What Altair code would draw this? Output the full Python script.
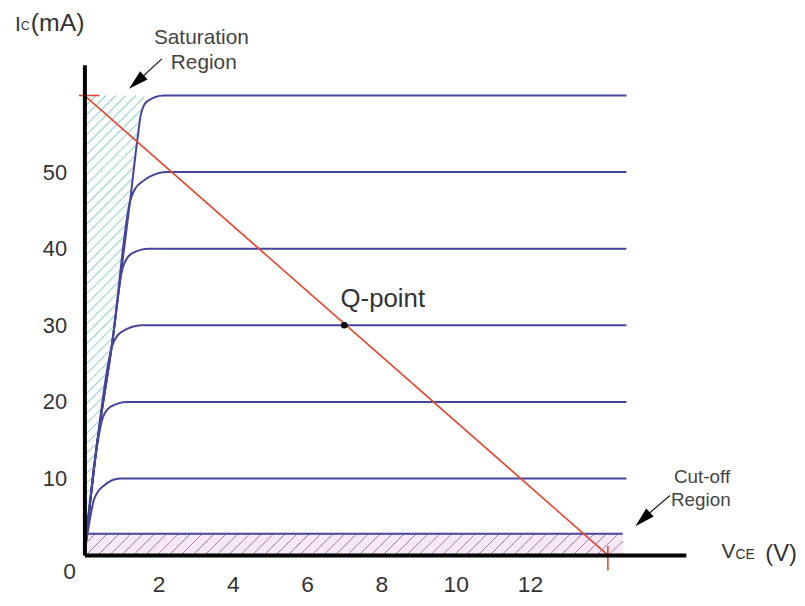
import altair as alt
import pandas as pd

# ---------------- data ----------------
LEVELS = [10, 20, 30, 40, 50, 60]
C10_V = [0.0, 0.27, 0.53, 0.96, 14.6]
C10_I = [0.0, 7.4, 9.1, 10.0, 10.0]
C20_V = [0.0, 0.29, 0.50, 0.72, 1.15, 14.6]
C20_I = [0.0, 12.6, 18.0, 19.4, 20.0, 20.0]
C30_V = [0.0, 0.29, 0.74, 0.99, 1.55, 14.6]
C30_I = [0.0, 12.6, 27.2, 29.1, 30.0, 30.0]
C40_V = [0.0, 0.29, 0.76, 1.03, 1.28, 1.74, 14.6]
C40_I = [0.0, 12.6, 28.1, 37.5, 39.4, 40.0, 40.0]
C50_V = [0.0, 0.29, 0.76, 1.23, 1.33, 1.60, 2.22, 14.6]
C50_I = [0.0, 12.6, 28.1, 46.2, 47.5, 48.9, 50.0, 50.0]
C60_V = [0.0, 0.29, 0.76, 1.23, 1.42, 1.52, 1.68, 2.14, 14.6]
C60_I = [0.0, 12.6, 28.1, 46.2, 54.0, 57.5, 59.2, 60.0, 60.0]
CURVES_V = [C10_V, C20_V, C30_V, C40_V, C50_V, C60_V]
CURVES_I = [C10_I, C20_I, C30_I, C40_I, C50_I, C60_I]

CUTOFF_I = 2.8            # top of cut-off band (mA)
CUTOFF_V = [0.08, 14.5]   # extent of cut-off band (V)
SAT_TOP = 60.0            # top of saturation region (mA)
SAT_K = 0.027             # V per mA along the saturation edge
LOAD_V = [0.0, 14.1]
LOAD_I = [60.0, 0.0]
Q_V = [7.0]
Q_I = [30.0]
X_TICKS = [2, 4, 6, 8, 10, 12]
Y_TICKS = [10, 20, 30, 40, 50]
X_MAX = 16.2
Y_MAX = 64.0

# ---------------- styling ----------------
FONT = "Liberation Sans"
BLUE = "#45459c"
RED = "#e8452c"
W, H = 606, 494
SLOPE = (W / X_MAX) / (H / Y_MAX)   # mA per V for a 45-degree hatch line

rows = []
for lev, vs, is_ in zip(LEVELS, CURVES_V, CURVES_I):
    for v, i in zip(vs, is_):
        rows.append({"level": lev, "v": v, "i": i})
curves_df = pd.DataFrame(rows)
ONE = pd.DataFrame({"k": [0]})

xscale = alt.Scale(domain=[0, X_MAX], nice=False, zero=False)
yscale = alt.Scale(domain=[0, Y_MAX], nice=False, zero=False)
xaxis = alt.Axis(values=X_TICKS, title=None, grid=False, ticks=False,
                 domainColor="black", domainWidth=4, labelFontSize=23,
                 labelColor="#333333", labelPadding=19, labelFont=FONT, zindex=1)
yaxis = alt.Axis(values=Y_TICKS, title=None, grid=False, ticks=False,
                 domainColor="black", domainWidth=4, labelFontSize=22,
                 labelColor="#333333", labelPadding=18, labelFont=FONT, zindex=1)


def X(f):
    return alt.X(f, type="quantitative", scale=xscale, axis=xaxis)


def Y(f):
    return alt.Y(f, type="quantitative", scale=yscale, axis=yaxis)


# cut-off band fill
cut_fill = alt.Chart(pd.DataFrame({"v0": [CUTOFF_V[0]], "v1": [CUTOFF_V[1]],
                                   "i0": [0.0], "i1": [CUTOFF_I]})).mark_rect(
    color="#f7e9f7").encode(x=X("v0"), x2="v1", y=Y("i0"), y2="i1")

# cut-off hatch
cut_hatch = alt.Chart(alt.sequence(-0.6, CUTOFF_V[1], 0.32, as_="h")).transform_calculate(
    vs=f"max(datum.h, {CUTOFF_V[0]})",
    ve=f"min(datum.h + {CUTOFF_I}/{SLOPE}, {CUTOFF_V[1]})",
).transform_calculate(
    is0=f"{SLOPE}*(datum.vs - datum.h)",
    ie=f"{SLOPE}*(datum.ve - datum.h)",
).transform_filter("datum.ve > datum.vs").mark_rule(
    color="#a878ac", strokeWidth=1).encode(x=X("vs:Q"), x2="ve:Q", y=Y("is0:Q"), y2="ie:Q")

# saturation hatch
den = 1 - SLOPE * SAT_K
sat_hatch = alt.Chart(alt.sequence(0, SAT_TOP, 1.3, as_="c")).transform_calculate(
    vs="0",
    ie=f"min(datum.c / {den}, {SAT_TOP})",
).transform_calculate(
    ve=f"datum.c / {den} > {SAT_TOP} ? ({SAT_TOP} - datum.c)/{SLOPE} : {SAT_K} * datum.c / {den}",
).mark_rule(color="#9fd6d6", strokeWidth=1.2).encode(
    x=X("vs:Q"), x2="ve:Q", y=Y("c:Q"), y2="ie:Q")

# cut-off (IB = 0) line
cut_line = alt.Chart(pd.DataFrame({"v0": [CUTOFF_V[0]], "v1": [CUTOFF_V[1]],
                                   "i": [CUTOFF_I]})).mark_rule(
    color=BLUE, strokeWidth=2).encode(x=X("v0"), x2="v1", y=Y("i"))

# characteristic curves
curves = alt.Chart(curves_df).mark_line(color=BLUE, strokeWidth=2, interpolate="monotone").encode(
    x=X("v"), y=Y("i"), detail="level:N", order="v:Q")

# load line
load = alt.Chart(pd.DataFrame({"v0": [LOAD_V[0]], "v1": [LOAD_V[1]],
                               "i0": [LOAD_I[0]], "i1": [LOAD_I[1]]})).mark_rule(
    color=RED, strokeWidth=1.6).encode(x=X("v0"), x2="v1", y=Y("i0"), y2="i1")
load_top = alt.Chart(pd.DataFrame({"v0": [LOAD_V[0] - 0.15], "v1": [LOAD_V[0] + 0.4],
                                   "i": [LOAD_I[0]]})).mark_rule(
    color=RED, strokeWidth=1.6).encode(x=X("v0"), x2="v1", y=Y("i"))
load_bot = alt.Chart(pd.DataFrame({"v": [LOAD_V[1]], "i0": [1.2], "i1": [-2.0]})).mark_rule(
    color=RED, strokeWidth=1.6).encode(x=X("v"), y=Y("i0"), y2="i1")

# Q point
qpt = alt.Chart(pd.DataFrame({"v": Q_V, "i": Q_I})).mark_point(
    filled=True, color="black", size=45, opacity=1).encode(x=X("v"), y=Y("i"))


def txt(s, x, y, size, color="#333333", align="left", baseline="alphabetic"):
    return alt.Chart(ONE).mark_text(text=s, fontSize=size, color=color, align=align,
                                    baseline=baseline, font=FONT).encode(
        x=alt.value(x), y=alt.value(y))


def seg(x1, y1, x2, y2):
    return alt.Chart(ONE).mark_rule(color="#222222", strokeWidth=1.3).encode(
        x=alt.value(x1), y=alt.value(y1), x2=alt.value(x2), y2=alt.value(y2))


def head(x, y, ang):
    return alt.Chart(ONE).mark_point(shape="M0,-1L0.55,1L-0.55,1Z", size=400, angle=ang,
                                     filled=True, color="black", opacity=1).encode(
        x=alt.value(x), y=alt.value(y))


texts = [
    txt("I", -70, -34, 21),
    txt("C", -64, -35, 12),
    txt("(mA)", -54, -34, 25),
    txt("Saturation", 70, -21, 21, color="#444444"),
    txt("Region", 87, 4, 21, color="#444444"),
    txt("Q-point", 258, 244, 26),
    txt("Cut-off", 594, 421, 19, color="#444444"),
    txt("Region", 591, 445, 19, color="#444444"),
    txt("V", 642, 497, 21),
    txt("CE", 656, 498, 14),
    txt("(V)", 686, 500, 24),
    txt("0", -15, 511, 23, align="center", baseline="middle"),
]

arrows = [
    seg(78, -6, 52, 18), head(52.4, 17.3, 228),
    seg(590, 434, 563, 457), head(562.5, 458, 227),
]

chart = alt.layer(
    cut_fill, cut_hatch, sat_hatch, cut_line, curves, load, load_top, load_bot, qpt,
    *texts, *arrows,
).properties(
    width=W, height=H,
    padding={"left": 77, "top": 55, "right": 112, "bottom": 45},
    autosize="none",
).configure(font=FONT, background="white").configure_view(stroke=None)

chart.save("out.html", embed_options={"renderer": "svg", "actions": False})
